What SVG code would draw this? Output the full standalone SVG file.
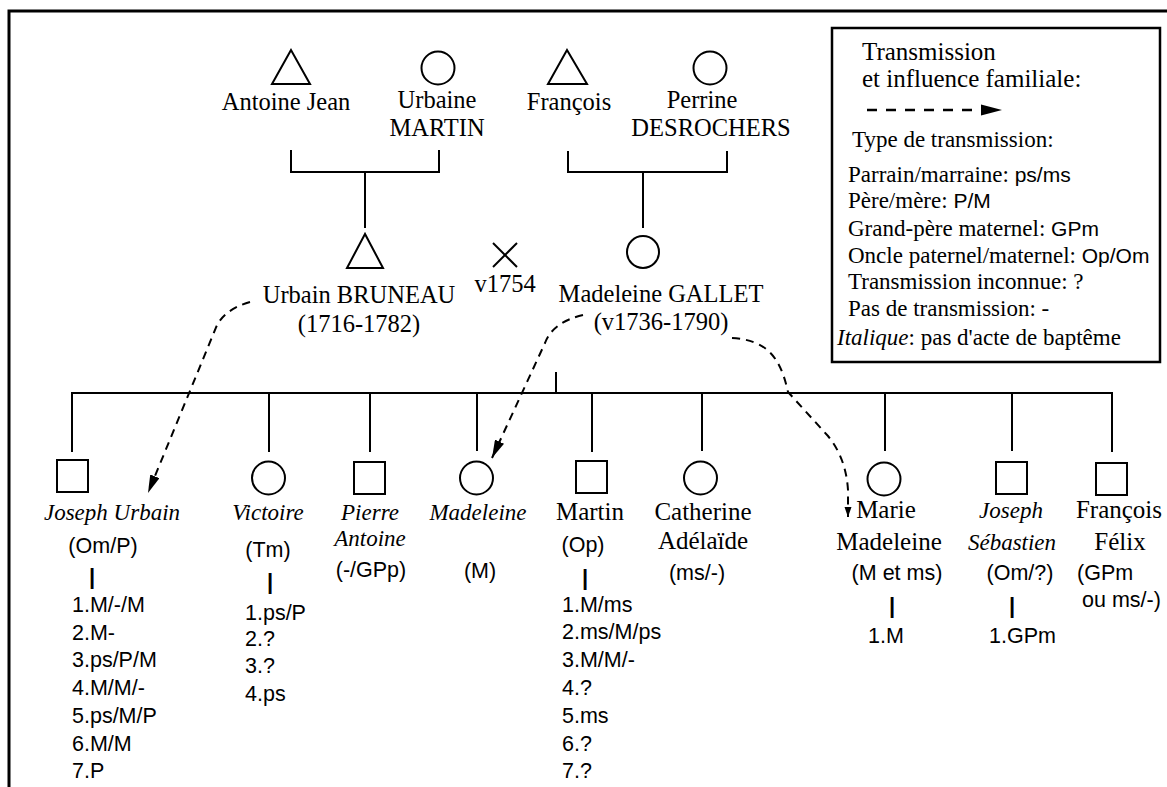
<svg xmlns="http://www.w3.org/2000/svg" width="1167" height="787" viewBox="0 0 1167 787">
<style>
.ln{stroke:#000;stroke-width:2;fill:none}
.sh{stroke:#000;stroke-width:2;fill:none}
.dash{stroke:#000;stroke-width:2;fill:none;stroke-dasharray:8 6}
.pn{font-family:"Liberation Serif","Times New Roman",serif;font-size:24.5px;fill:#000;text-anchor:middle}
.cn{font-family:"Liberation Serif","Times New Roman",serif;font-size:25px;fill:#000;text-anchor:middle}
.ci{font-family:"Liberation Serif","Times New Roman",serif;font-size:23px;font-style:italic;fill:#000;text-anchor:middle}
.cd{font-family:"Liberation Sans",Arial,sans-serif;font-size:21.5px;fill:#000}
.mid{text-anchor:middle}
.bar{font-family:"Liberation Sans",Arial,sans-serif;font-size:22px;font-weight:bold;fill:#000;text-anchor:middle}
.lg{font-family:"Liberation Serif","Times New Roman",serif;font-size:23px;fill:#000}
.lgb{font-family:"Liberation Serif","Times New Roman",serif;font-size:25px;fill:#000}
.sans{font-family:"Liberation Sans",Arial,sans-serif;font-size:21px}
</style>
<defs>
<marker id="ah" markerUnits="userSpaceOnUse" markerWidth="18" markerHeight="10" refX="18" refY="5" orient="auto">
<path d="M0,0 L18,5 L0,10 z" fill="#000"/>
</marker>
<marker id="ahs" markerUnits="userSpaceOnUse" markerWidth="10" markerHeight="8" refX="10" refY="4" orient="auto">
<path d="M0,0.5 L10,4 L0,7.5 z" fill="#000"/>
</marker>
</defs>
<rect x="0" y="0" width="1167" height="787" fill="#fff"/>
<rect id="frame" x="9" y="11" width="1200" height="820" fill="none" stroke="#000" stroke-width="3"/>

<g id="connectors">
<polyline class="ln" points="291,150 291,172 439,172 439,150"/>
<line class="ln" x1="365" y1="172" x2="365" y2="228"/>
<polyline class="ln" points="568,151 568,172 727,172 727,151"/>
<line class="ln" x1="643" y1="172" x2="643" y2="228"/>
<line class="ln" x1="71" y1="393" x2="1113" y2="393"/>
<line class="ln" x1="556" y1="372" x2="556" y2="393"/>
<line class="ln" x1="72" y1="393" x2="72" y2="452"/>
<line class="ln" x1="269" y1="393" x2="269" y2="452"/>
<line class="ln" x1="370" y1="393" x2="370" y2="452"/>
<line class="ln" x1="477" y1="393" x2="477" y2="451"/>
<line class="ln" x1="592" y1="393" x2="592" y2="452"/>
<line class="ln" x1="702" y1="393" x2="702" y2="451"/>
<line class="ln" x1="885" y1="393" x2="885" y2="451"/>
<line class="ln" x1="1012" y1="393" x2="1012" y2="451"/>
<line class="ln" x1="1112" y1="393" x2="1112" y2="452"/>
<path class="dash" d="M250,302 Q222,310 215,330 L148,493" marker-end="url(#ah)"/>
<path class="dash" d="M583,315 Q553,322 545,343 L492,458" marker-end="url(#ah)"/>
<path class="dash" d="M732,338 C765,340 780,355 788,392 L828,436 Q846,458 848,490 L848,517" marker-end="url(#ahs)"/>
</g>

<g id="antoine-jean">
<polygon class="sh" points="291,50 272,84 310,84"/>
<text class="pn" x="286" y="110">Antoine Jean</text>
</g>
<g id="urbaine-martin">
<circle class="sh" cx="438" cy="68" r="16.5"/>
<text class="pn" x="437" y="108">Urbaine</text>
<text class="pn" x="437" y="136">MARTIN</text>
</g>
<g id="francois">
<polygon class="sh" points="567,50 548,84 587,84"/>
<text class="pn" x="569" y="110">François</text>
</g>
<g id="perrine-desrochers">
<circle class="sh" cx="710" cy="68" r="16.5"/>
<text class="pn" x="702" y="108">Perrine</text>
<text class="pn" x="711" y="136">DESROCHERS</text>
</g>
<g id="urbain-bruneau">
<polygon class="sh" points="365,234 347,268 383,268"/>
<text class="pn" x="359" y="303">Urbain BRUNEAU</text>
<text class="pn" x="359" y="332">(1716-1782)</text>
</g>
<g id="mariage">
<line class="ln" x1="493" y1="243" x2="517" y2="267"/>
<line class="ln" x1="517" y1="243" x2="493" y2="267"/>
<text class="pn" x="505" y="292">v1754</text>
</g>
<g id="madeleine-gallet">
<circle class="sh" cx="643" cy="252" r="16"/>
<text class="pn" x="661" y="302">Madeleine GALLET</text>
<text class="pn" x="661" y="330">(v1736-1790)</text>
</g>

<g id="legend">
<rect x="832" y="28" width="328" height="334" fill="none" stroke="#000" stroke-width="2.5"/>
<text class="lgb" x="862" y="60">Transmission</text>
<text class="lgb" x="862" y="87">et influence familiale:</text>
<line x1="867" y1="110" x2="972" y2="110" stroke="#000" stroke-width="2.5" stroke-dasharray="10 9"/>
<polygon points="981,104.5 1002,110 981,115.5" fill="#000"/>
<text class="lg" x="852" y="147">Type de transmission:</text>
<text class="lg" x="848" y="182">Parrain/marraine: <tspan class="sans">ps/ms</tspan></text>
<text class="lg" x="848" y="208">Père/mère: <tspan class="sans">P/M</tspan></text>
<text class="lg" x="848" y="236">Grand-père maternel: <tspan class="sans">GPm</tspan></text>
<text class="lg" x="848" y="263">Oncle paternel/maternel: <tspan class="sans">Op/Om</tspan></text>
<text class="lg" x="848" y="289">Transmission inconnue: ?</text>
<text class="lg" x="848" y="316">Pas de transmission: -</text>
<text class="lg" x="837" y="345"><tspan font-style="italic">Italique</tspan>: pas d'acte de baptême</text>
</g>

<g id="joseph-urbain">
<rect class="sh" x="57" y="460" width="31" height="32"/>
<text class="ci" x="112" y="520">Joseph Urbain</text>
<text class="cd mid" x="103" y="553">(Om/P)</text>
<text class="bar" x="92" y="584">|</text>
<text class="cd" x="72" y="612">1.M/-/M</text>
<text class="cd" x="72" y="640">2.M-</text>
<text class="cd" x="72" y="667">3.ps/P/M</text>
<text class="cd" x="72" y="695">4.M/M/-</text>
<text class="cd" x="72" y="723">5.ps/M/P</text>
<text class="cd" x="72" y="751">6.M/M</text>
<text class="cd" x="72" y="778">7.P</text>
</g>
<g id="victoire">
<circle class="sh" cx="268.5" cy="478" r="16.5"/>
<text class="ci" x="268" y="520">Victoire</text>
<text class="cd mid" x="268" y="557">(Tm)</text>
<text class="bar" x="270" y="589">|</text>
<text class="cd" x="245" y="620">1.ps/P</text>
<text class="cd" x="245" y="646">2.?</text>
<text class="cd" x="245" y="673">3.?</text>
<text class="cd" x="245" y="701">4.ps</text>
</g>
<g id="pierre-antoine">
<rect class="sh" x="354" y="462" width="31" height="32"/>
<text class="ci" x="370" y="520">Pierre</text>
<text class="ci" x="370" y="546">Antoine</text>
<text class="cd mid" x="371" y="577">(-/GPp)</text>
</g>
<g id="madeleine">
<circle class="sh" cx="476.5" cy="478" r="16.5"/>
<text class="ci" x="478" y="520">Madeleine</text>
<text class="cd mid" x="480" y="578">(M)</text>
</g>
<g id="martin">
<rect class="sh" x="576" y="461" width="31" height="32"/>
<text class="cn" x="590" y="520">Martin</text>
<text class="cd mid" x="583" y="552">(Op)</text>
<text class="bar" x="585" y="585">|</text>
<text class="cd" x="562" y="612">1.M/ms</text>
<text class="cd" x="562" y="639">2.ms/M/ps</text>
<text class="cd" x="562" y="667">3.M/M/-</text>
<text class="cd" x="562" y="695">4.?</text>
<text class="cd" x="562" y="723">5.ms</text>
<text class="cd" x="562" y="751">6.?</text>
<text class="cd" x="562" y="778">7.?</text>
</g>
<g id="catherine-adelaide">
<circle class="sh" cx="700.5" cy="478" r="16.5"/>
<text class="cn" x="703" y="520">Catherine</text>
<text class="cn" x="703" y="549">Adélaïde</text>
<text class="cd mid" x="697" y="580">(ms/-)</text>
</g>
<g id="marie-madeleine">
<circle class="sh" cx="884" cy="479" r="16.5"/>
<text class="cn" x="886" y="518">Marie</text>
<text class="cn" x="889" y="550">Madeleine</text>
<text class="cd mid" x="897" y="580">(M et ms)</text>
<text class="bar" x="892" y="613">|</text>
<text class="cd" x="868" y="643">1.M</text>
</g>
<g id="joseph-sebastien">
<rect class="sh" x="996" y="462" width="31" height="32"/>
<text class="ci" x="1011" y="518">Joseph</text>
<text class="ci" x="1012" y="550">Sébastien</text>
<text class="cd mid" x="1020" y="580">(Om/?)</text>
<text class="bar" x="1012" y="613">|</text>
<text class="cd" x="989" y="643">1.GPm</text>
</g>
<g id="francois-felix">
<rect class="sh" x="1096" y="463" width="31" height="32"/>
<text class="cn" x="1119" y="518">François</text>
<text class="cn" x="1120" y="550">Félix</text>
<text class="cd" x="1077" y="580">(GPm</text>
<text class="cd" x="1082" y="607">ou ms/-)</text>
</g>
</svg>
